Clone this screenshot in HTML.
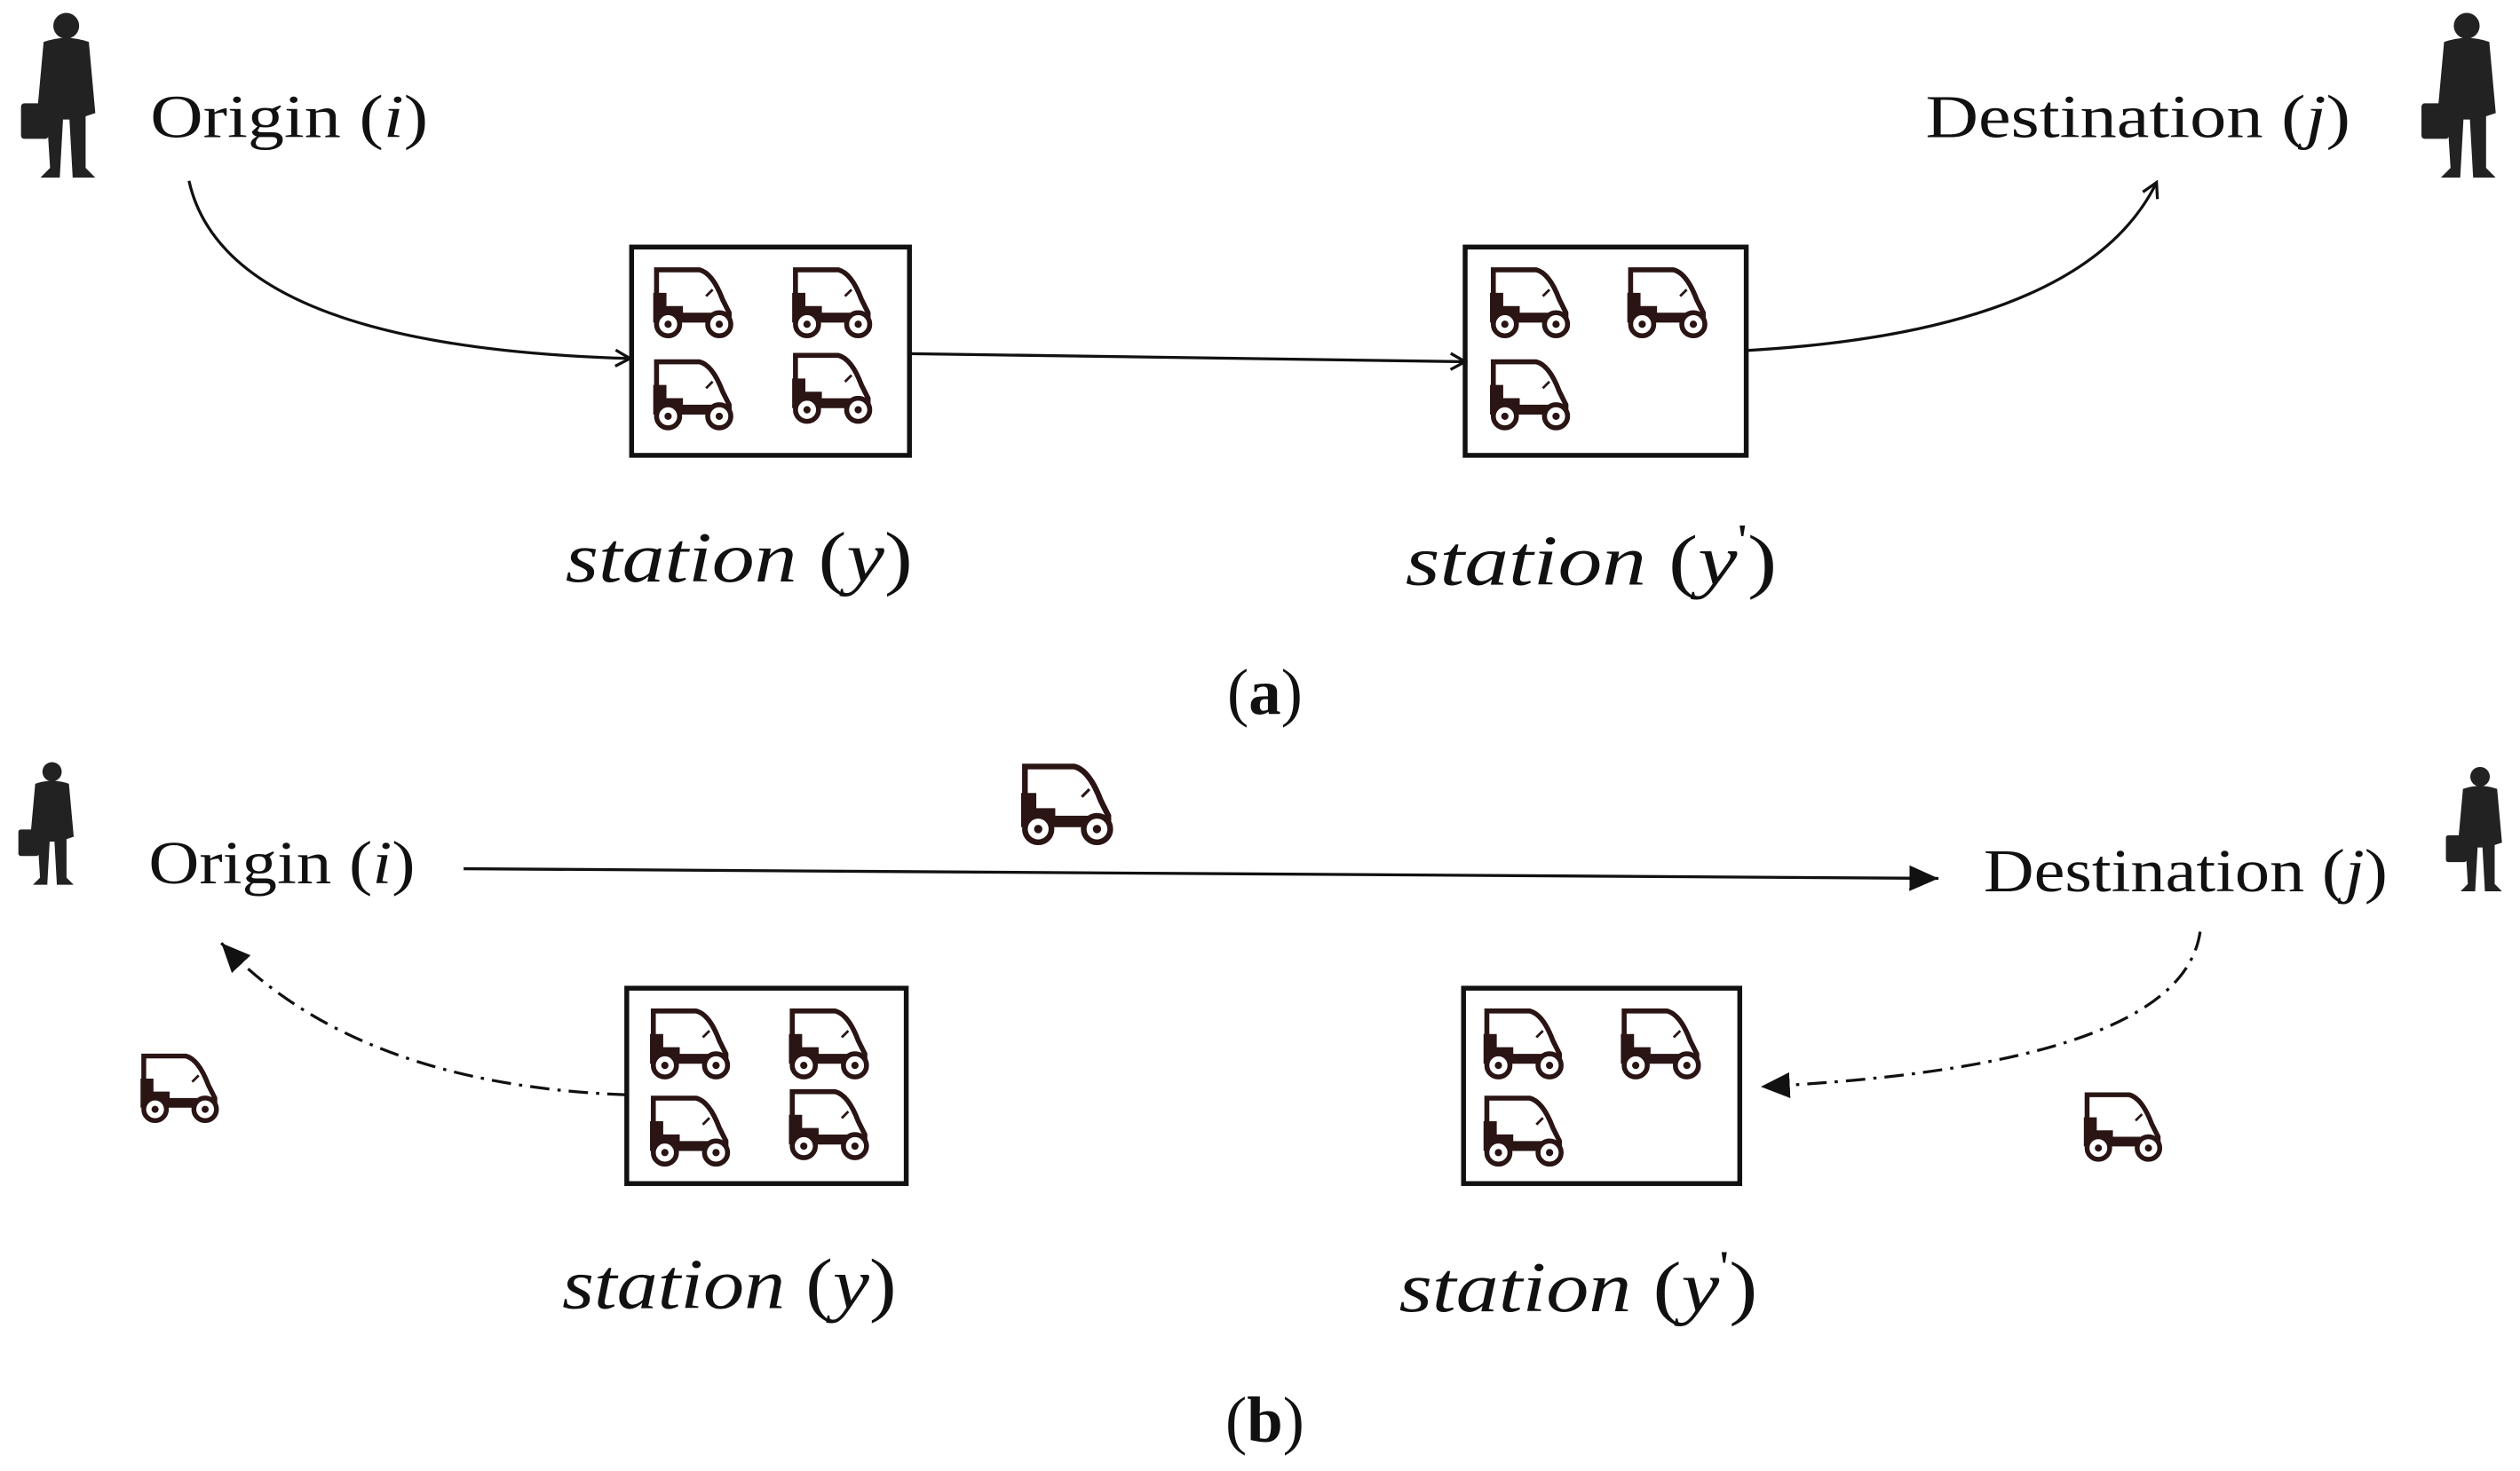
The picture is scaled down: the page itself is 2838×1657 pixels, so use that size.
<!DOCTYPE html>
<html><head><meta charset="utf-8"><style>
html,body{margin:0;padding:0;background:#fff;}
svg{display:block;}
text{font-family:"Liberation Serif",serif;fill:#111;}
</style></head><body>
<svg width="2838" height="1657" viewBox="0 0 1560 911" preserveAspectRatio="none" xmlns="http://www.w3.org/2000/svg">
<defs>
<symbol id="car" viewBox="0 0 60 46">
  <path d="M4 4 H30 Q38 6 44 22 L48 30 V34 H4 Z" fill="none" stroke="#2a1414" stroke-width="3"/>
  <path d="M2 18 H10 V26 H20 V30 H46 V36 H2 Z" fill="#2a1414"/>
  <path d="M34 20 l4 -4" stroke="#2a1414" stroke-width="1.5"/>
  <circle cx="11" cy="37" r="7" fill="#fff" stroke="#2a1414" stroke-width="3"/>
  <circle cx="11" cy="37" r="2.2" fill="#2a1414"/>
  <circle cx="42" cy="37" r="7" fill="#fff" stroke="#2a1414" stroke-width="3"/>
  <circle cx="42" cy="37" r="2.2" fill="#2a1414"/>
</symbol>
<symbol id="man" viewBox="0 0 54 102">
  <circle cx="30" cy="8" r="8" fill="#222"/>
  <path d="M16 18 Q30 13 44 18 L48 62 L42 64 L42 96 L48 102 L34 102 L32 66 L28 66 L26 102 L14 102 L20 96 L18 64 L12 62 Z" fill="#222"/>
  <rect x="2" y="56" width="17" height="22" rx="2" fill="#222"/>
</symbol>
<marker id="ao" markerWidth="12" markerHeight="12" refX="10" refY="6" orient="auto" markerUnits="userSpaceOnUse">
  <path d="M1 1 L10 6 L1 11" fill="none" stroke="#111" stroke-width="1.8"/>
</marker>
<marker id="af" markerWidth="20" markerHeight="16" refX="18" refY="8" orient="auto" markerUnits="userSpaceOnUse">
  <path d="M0 0 L18 8 L0 16 Z" fill="#111"/>
</marker>
</defs>

<!-- (a) -->
<use href="#man" x="10" y="8" width="56" height="102"/>
<use href="#man" x="1496" y="8" width="56" height="102"/>
<text x="93" y="85" font-size="38" textLength="172" lengthAdjust="spacingAndGlyphs">Origin (<tspan font-style="italic">i</tspan>)</text>
<text x="1192" y="85" font-size="38" textLength="263" lengthAdjust="spacingAndGlyphs">Destination (<tspan font-style="italic">j</tspan>)</text>

<path d="M117 112 Q140 215 390 222" fill="none" stroke="#111" stroke-width="1.8" marker-end="url(#ao)"/>
<rect x="391" y="153" width="172" height="129" fill="none" stroke="#111" stroke-width="3"/>
<rect x="907" y="153" width="174" height="129" fill="none" stroke="#111" stroke-width="3"/>
<use href="#car" x="402" y="163" width="62" height="47"/>
<use href="#car" x="488" y="163" width="62" height="47"/>
<use href="#car" x="402" y="220" width="62" height="47"/>
<use href="#car" x="488" y="216" width="62" height="47"/>
<use href="#car" x="920" y="163" width="62" height="47"/>
<use href="#car" x="1005" y="163" width="62" height="47"/>
<use href="#car" x="920" y="220" width="62" height="47"/>
<path d="M563 219 L907 224" fill="none" stroke="#111" stroke-width="1.8" marker-end="url(#ao)"/>
<path d="M1082 217 Q1290 205 1335 113" fill="none" stroke="#111" stroke-width="1.8" marker-end="url(#ao)"/>

<text x="350" y="360" font-size="44" textLength="215" lengthAdjust="spacingAndGlyphs"><tspan font-style="italic">station</tspan> (<tspan font-style="italic">y</tspan>)</text>
<text x="870" y="362" font-size="44" textLength="230" lengthAdjust="spacingAndGlyphs"><tspan font-style="italic">station</tspan> (<tspan font-style="italic">y</tspan><tspan font-size="28" dy="-18">'</tspan><tspan dy="18">)</tspan></text>
<text x="783" y="442" font-size="40" text-anchor="middle">(<tspan font-weight="bold">a</tspan>)</text>

<!-- (b) -->
<use href="#man" x="8" y="472" width="44" height="76"/>
<use href="#man" x="1511" y="475" width="44" height="77"/>
<text x="92" y="547" font-size="38" textLength="165" lengthAdjust="spacingAndGlyphs">Origin (<tspan font-style="italic">i</tspan>)</text>
<text x="1228" y="552" font-size="38" textLength="250" lengthAdjust="spacingAndGlyphs">Destination (<tspan font-style="italic">j</tspan>)</text>
<use href="#car" x="626" y="470" width="78" height="54"/>
<path d="M287 538 L1200 544" fill="none" stroke="#111" stroke-width="1.8" marker-end="url(#af)"/>

<rect x="388" y="612" width="173" height="121" fill="none" stroke="#111" stroke-width="3"/>
<rect x="906" y="612" width="171" height="121" fill="none" stroke="#111" stroke-width="3"/>
<use href="#car" x="400" y="622" width="62" height="47"/>
<use href="#car" x="486" y="622" width="62" height="47"/>
<use href="#car" x="400" y="676" width="62" height="47"/>
<use href="#car" x="486" y="672" width="62" height="47"/>
<use href="#car" x="916" y="622" width="62" height="47"/>
<use href="#car" x="1001" y="622" width="62" height="47"/>
<use href="#car" x="916" y="676" width="62" height="47"/>
<use href="#car" x="84" y="650" width="62" height="46"/>
<use href="#car" x="1287" y="674" width="62" height="46"/>

<path d="M388 678 Q220 672 137 584" fill="none" stroke="#111" stroke-width="1.8" stroke-dasharray="12 5 2 5" marker-end="url(#af)"/>
<path d="M1362 577 Q1350 660 1090 673" fill="none" stroke="#111" stroke-width="1.8" stroke-dasharray="12 5 2 5" marker-end="url(#af)"/>

<text x="348" y="810" font-size="44" textLength="207" lengthAdjust="spacingAndGlyphs"><tspan font-style="italic">station</tspan> (<tspan font-style="italic">y</tspan>)</text>
<text x="866" y="812" font-size="44" textLength="222" lengthAdjust="spacingAndGlyphs"><tspan font-style="italic">station</tspan> (<tspan font-style="italic">y</tspan><tspan font-size="28" dy="-18">'</tspan><tspan dy="18">)</tspan></text>
<text x="783" y="893" font-size="40" text-anchor="middle">(<tspan font-weight="bold">b</tspan>)</text>
</svg>
</body></html>
